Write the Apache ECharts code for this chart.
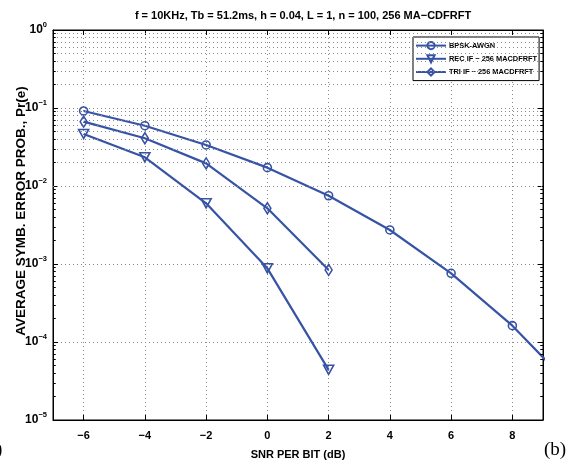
<!DOCTYPE html>
<html><head><meta charset="utf-8">
<script src="https://cdn.jsdelivr.net/npm/echarts@6/dist/echarts.min.js"></script>
<style>html,body{margin:0;padding:0;background:#fff}#c{width:574px;height:467px}</style>
</head><body><div id="c"></div>
<script>
const snr = [-6, -4, -2, 0, 2, 4, 6, 8, 10];
const bpskAwgn = [0.0916, 0.0593, 0.0336, 0.0172, 0.0075, 0.00273, 0.00076, 0.000162, 0.000025];
const snrIF = [-6, -4, -2, 0, 2];
const recIF = [0.0464, 0.0233, 0.0060, 0.00088, 0.000044];
const triIF = [0.0668, 0.0409, 0.0195, 0.00518, 0.00084];
const xTicks = [-6, -4, -2, 0, 2, 4, 6, 8];
const seriesNames = ['BPSK-AWGN', 'REC IF \u2212 256 MACDFRFT', 'TRI IF \u2212 256 MACDFRFT'];
const titleText = 'f = 10KHz, Tb = 51.2ms, h = 0.04, L = 1, n = 100, 256 MA\u2212CDFRFT';
const xName = 'SNR PER BIT (dB)';
const yName = 'AVERAGE SYMB. ERROR PROB., Pr(e)';
const decades = [-5, -4, -3, -2, -1];
const minorMult = [2, 3, 4, 5, 6, 7, 8, 9];

const X_MIN = -7, X_MAX = 9;
const BLUE = '#3753a6';
const GRIDC = '#8a8a8a';
const FONT = 'Arial, "Liberation Sans", sans-serif';

const minorVals = [];
decades.forEach(k => minorMult.forEach(m => minorVals.push(m * Math.pow(10, k))));
const minorLines = minorVals.map(v => ({ yAxis: v }));
const minorTickLen = 0.09;
const minorTicks = [];
minorVals.forEach(v => {
  minorTicks.push([{ coord: [X_MIN, v] }, { coord: [X_MIN + minorTickLen, v] }]);
  minorTicks.push([{ coord: [X_MAX - minorTickLen, v] }, { coord: [X_MAX, v] }]);
});

const chart = echarts.init(document.getElementById('c'), null, { renderer: 'canvas' });
const pair = (xs, ys) => xs.map((x, i) => [x, ys[i]]);

const option = {
  backgroundColor: '#fff',
  animation: false,
  title: {
    text: titleText, left: 298, textAlign: 'center', top: 5,
    textStyle: { fontFamily: FONT, fontWeight: 'bold', fontSize: 11, color: '#000' }
  },
  grid: { left: 53, right: 31, top: 30, bottom: 47, show: true, borderColor: '#000', borderWidth: 1 },
  legend: {
    data: seriesNames, orient: 'vertical', left: 413, top: 37,
    backgroundColor: '#fff', borderColor: '#000', borderWidth: 1,
    padding: [4, 2, 4, 2], itemGap: 4, itemWidth: 30, itemHeight: 9,
    textStyle: { fontFamily: FONT, fontWeight: 'bold', fontSize: 7.4, color: '#000', padding: [0, 0, 0, -2] }
  },
  xAxis: [{
    type: 'value', min: X_MIN, max: X_MAX,
    axisLine: { show: true, onZero: false, lineStyle: { color: '#000', width: 1 } },
    axisTick: { show: true, inside: true, length: 5, customValues: xTicks, lineStyle: { color: '#000' } },
    axisLabel: {
      customValues: xTicks, margin: 10,
      fontFamily: FONT, fontWeight: 'bold', fontSize: 11, color: '#000',
      formatter: v => String(v).replace('-', '\u2212')
    },
    splitLine: { show: true, lineStyle: { type: [1, 3], color: GRIDC, width: 1 } }
  }, {
    type: 'value', min: X_MIN, max: X_MAX, position: 'top',
    axisLine: { show: true, onZero: false, lineStyle: { color: '#000' } },
    axisTick: { show: true, inside: true, length: 5, customValues: xTicks, lineStyle: { color: '#000' } },
    axisLabel: { show: false }, splitLine: { show: false }
  }],
  yAxis: [{
    type: 'log', min: 1e-5, max: 1, logBase: 10,
    axisLine: { show: true, onZero: false, lineStyle: { color: '#000', width: 1 } },
    axisTick: { show: true, inside: true, length: 5, lineStyle: { color: '#000' } },
    axisLabel: {
      margin: 6, color: '#000',
      formatter: v => '{b|10}{s|' + Math.round(Math.log10(v)).toString().replace('-', '\u2212') + '}',
      rich: {
        b: { fontFamily: FONT, fontWeight: 'bold', fontSize: 12, color: '#000' },
        s: { fontFamily: FONT, fontWeight: 'bold', fontSize: 7.5, color: '#000', padding: [0, 0, 10, 0] }
      }
    },
    splitLine: { show: true, lineStyle: { type: [1, 3], color: GRIDC, width: 1 } }
  }, {
    type: 'log', min: 1e-5, max: 1, logBase: 10, position: 'right',
    axisLine: { show: true, onZero: false, lineStyle: { color: '#000' } },
    axisTick: { show: true, inside: true, length: 5, lineStyle: { color: '#000' } },
    axisLabel: { show: false }, splitLine: { show: false }
  }],
  series: [
    {
      name: 'minor-grid', type: 'line', data: [], z: 1, silent: true,
      markLine: {
        silent: true, symbol: 'none', animation: false,
        label: { show: false },
        lineStyle: { type: [1, 3], color: GRIDC, width: 1 },
        data: minorLines
      }
    },
    {
      name: 'minor-ticks', type: 'line', data: [], z: 2, silent: true,
      markLine: {
        silent: true, symbol: 'none', animation: false,
        label: { show: false },
        lineStyle: { type: 'solid', color: '#000', width: 1 },
        data: minorTicks
      }
    },
    {
      name: seriesNames[0], type: 'line', data: pair(snr, bpskAwgn), z: 3,
      symbol: 'circle', symbolSize: 8, showAllSymbol: true, clip: true,
      lineStyle: { color: BLUE, width: 2.2 },
      itemStyle: { color: 'rgba(255,255,255,0)', borderColor: BLUE, borderWidth: 1.6 }
    },
    {
      name: seriesNames[1], type: 'line', data: pair(snrIF, recIF), z: 3,
      symbol: 'triangle', symbolRotate: 180, symbolSize: [10, 9], clip: true,
      lineStyle: { color: BLUE, width: 2.2 },
      itemStyle: { color: 'rgba(255,255,255,0)', borderColor: BLUE, borderWidth: 1.6 }
    },
    {
      name: seriesNames[2], type: 'line', data: pair(snrIF, triIF), z: 3,
      symbol: 'diamond', symbolSize: [7, 11], clip: true,
      lineStyle: { color: BLUE, width: 2.2 },
      itemStyle: { color: 'rgba(255,255,255,0)', borderColor: BLUE, borderWidth: 1.6 }
    }
  ],
  graphic: [
    { type: 'text', x: 298, y: 455, style: { text: xName, font: 'bold 11px Arial, "Liberation Sans", sans-serif', fill: '#000', align: 'center', verticalAlign: 'middle' } },
    { type: 'text', x: 21, y: 211, rotation: Math.PI / 2, style: { text: yName, font: 'bold 13.5px Arial, "Liberation Sans", sans-serif', fill: '#000', align: 'center', verticalAlign: 'middle' } },
    { type: 'text', left: 544, top: 441, style: { text: '(b)', font: '19px "Liberation Serif", "DejaVu Serif", serif', fill: '#000' } },
    { type: 'text', left: -4, top: 441, style: { text: ')', font: '19px "Liberation Serif", "DejaVu Serif", serif', fill: '#000' } }
  ]
};
chart.setOption(option);
</script>
</body></html>
